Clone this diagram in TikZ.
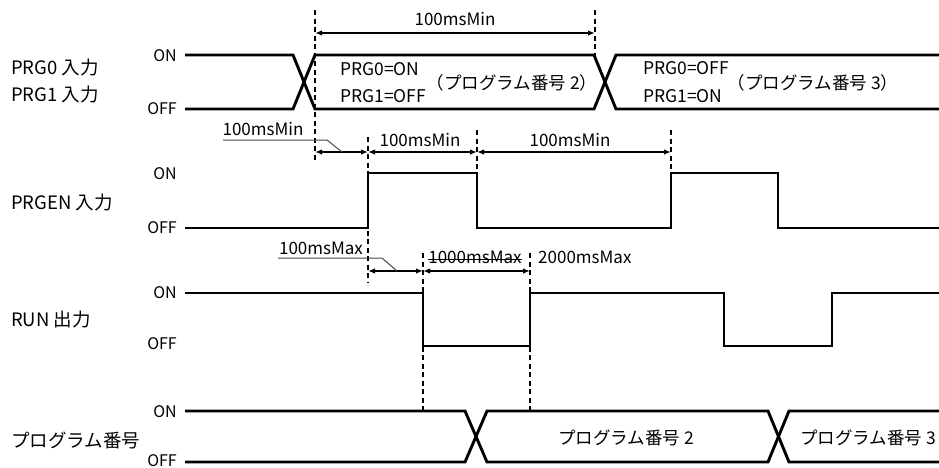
\documentclass[tikz,border=0pt]{standalone}
\usepackage{fontspec}
\setmainfont{Noto Sans CJK JP}
\usetikzlibrary{arrows.meta}
\definecolor{wavecolor}{RGB}{0,0,0}
\definecolor{guidecolor}{RGB}{0,0,0}
\definecolor{leadercolor}{RGB}{70,70,70}
\definecolor{labelcolor}{RGB}{0,0,0}
\tikzset{
sigtext/.style={
  anchor=west,
  inner sep=0pt,
  font=\fontsize{18.5}{20}\selectfont,
  text=labelcolor
},
leveltext/.style={
  anchor=east,
  inner sep=0pt,
  font=\fontsize{16}{18}\selectfont,
  text=labelcolor
},
timetext/.style={
  inner sep=0pt,
  font=\fontsize{17}{19}\selectfont,
  text=labelcolor
},
bustext/.style={
  inner sep=0pt,
  font=\fontsize{17.5}{19}\selectfont,
  text=labelcolor
},
wave/.style={
  line width=2.9pt,
  draw=wavecolor
},
guideline/.style={
  draw=guidecolor,
  line width=1.1pt,
  dash pattern=on 5pt off 3.5pt
},
dimarrow/.style={
  {Latex[length=7pt,width=5.5pt]}-{Latex[length=7pt,width=5.5pt]},
  line width=1.5pt,
  draw=wavecolor
},
leader/.style={
  line width=1pt,
  draw=leadercolor
},
strike/.style={
  line width=1.1pt,
  draw=labelcolor
}
}

\begin{document}
\begin{tikzpicture}[x=1pt, y=-1pt]
  \useasboundingbox (0,0) rectangle (939,467);
  % Signal names
  \node[sigtext] (prg0name) at (11,68) {PRG0 入力};
  \node[sigtext] (prg1name) at (11,95) {PRG1 入力};
  \node[sigtext] (prgenname) at (11,203) {PRGEN 入力};
  \node[sigtext] (runname) at (11,320) {RUN 出力};
  \node[sigtext] (progname) at (11,440) {プログラム番号};
  % ON / OFF levels
  \node[leveltext] (on1) at (177,56) {ON};
  \node[leveltext] (off1) at (177,109) {OFF};
  \node[leveltext] (on2) at (177,174) {ON};
  \node[leveltext] (off2) at (177,228) {OFF};
  \node[leveltext] (on3) at (177,293) {ON};
  \node[leveltext] (off3) at (177,344) {OFF};
  \node[leveltext] (on4) at (177,412) {ON};
  \node[leveltext] (off4) at (177,461) {OFF};
  % Guide lines
  \draw[guideline] (315,10) -- (315,160);
  \draw[guideline] (595,10) -- (595,56);
  \draw[guideline] (368,137) -- (368,282);
  \draw[guideline] (477,130) -- (477,172);
  \draw[guideline] (671,130) -- (671,172);
  \draw[guideline] (423,253) -- (423,410);
  \draw[guideline] (530,253) -- (530,410);
  % PRG0 / PRG1 bus
  \draw[wave] (185,55) -- (293,55) -- (315,109) -- (594,109) -- (616,55) -- (939,55);
  \draw[wave] (185,109) -- (293,109) -- (315,55) -- (594,55) -- (616,109) -- (939,109);
  % PRGEN
  \draw[wave] (185,228) -- (368,228) -- (368,173) -- (477,173) -- (477,228)
    -- (671,228) -- (671,173) -- (778,173) -- (778,228) -- (939,228);
  % RUN
  \draw[wave] (185,293) -- (423,293) -- (423,346) -- (530,346) -- (530,293)
    -- (724,293) -- (724,346) -- (832,346) -- (832,293) -- (939,293);
  % Program number bus
  \draw[wave] (185,411) -- (465,411) -- (487,462) -- (768,462) -- (789,411) -- (939,411);
  \draw[wave] (185,462) -- (465,462) -- (487,411) -- (768,411) -- (789,462) -- (939,462);
  % Bus contents
  \node[bustext, anchor=west] (prg0on) at (340,69) {PRG0=ON};
  \node[bustext, anchor=west] (prg1off) at (340,96) {PRG1=OFF};
  \node[bustext] (prog2a) at (512,83) {（プログラム番号 2）};
  \node[bustext, anchor=west] (prg0off) at (643,68) {PRG0=OFF};
  \node[bustext, anchor=west] (prg1on) at (643,96) {PRG1=ON};
  \node[bustext] (prog3a) at (813,83) {（プログラム番号 3）};
  \node[bustext] (prog2b) at (626,438) {プログラム番号 2};
  \node[bustext, anchor=west] (prog3b) at (800,438) {プログラム番号 3};
  % Timing
  \draw[dimarrow] (315,33) -- (595,33);
  \node[timetext] (minprg) at (455,19) {100msMin};
  \draw[dimarrow] (315,152) -- (368,152);
  \draw[dimarrow] (368,152) -- (477,152);
  \draw[dimarrow] (477,152) -- (671,152);
  \node[timetext] (minlead) at (263,129) {100msMin};
  \draw[leader] (223,140) -- (327,140) -- (342,152);
  \node[timetext] (minon) at (420,140) {100msMin};
  \node[timetext] (minoff) at (570,140) {100msMin};
  \draw[dimarrow] (368,271) -- (423,271);
  \draw[dimarrow] (423,271) -- (530,271);
  \node[timetext] (maxlead) at (321,248) {100msMax};
  \draw[leader] (278,258) -- (382,258) -- (397,271);
  \node[timetext] (maxold) at (475,257) {1000msMax};
  \draw[strike] ([yshift=1pt]maxold.mid west) -- ([yshift=1pt]maxold.mid east);
  \node[timetext, anchor=west] (maxnew) at (538,257) {2000msMax};
\end{tikzpicture}
\end{document}
